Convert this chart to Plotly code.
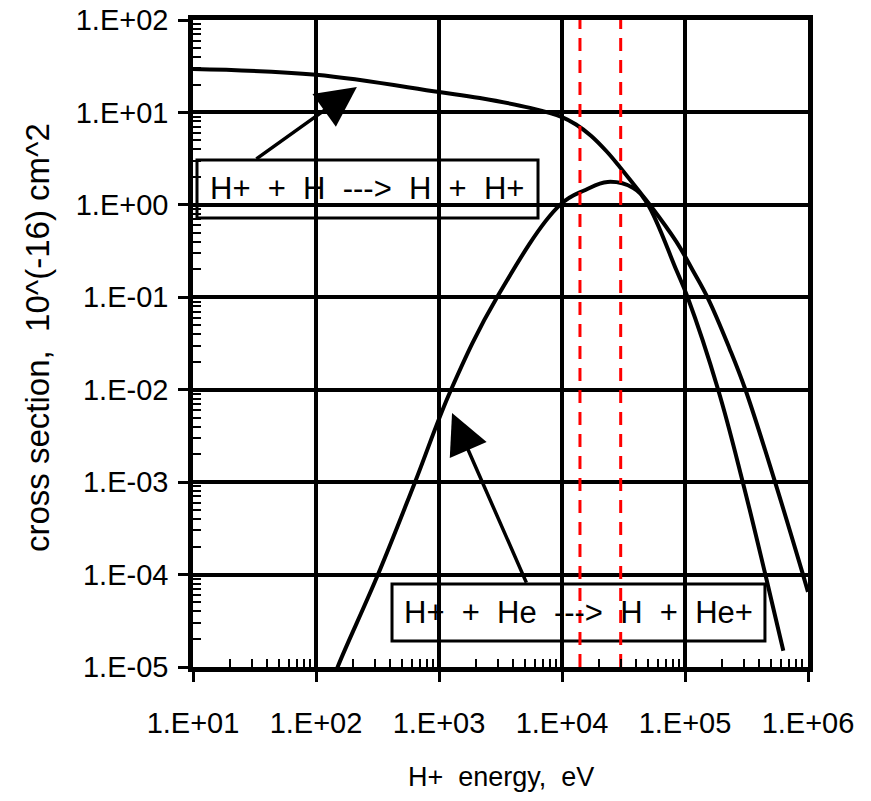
import numpy as np
import plotly.graph_objects as go

# Charge-exchange cross sections (units of 1e-16 cm^2) vs. proton energy (eV)
energy_h = [10, 100, 1000, 2150, 5500, 10000, 13000, 17200, 23000, 29500, 40700,
            51900, 85000, 117000, 155000, 230000, 310000, 540000, 910000, 1000000]
sigma_h = [29.5, 25.5, 16.6, 14.3, 11.2, 8.9, 7.4, 5.6, 3.8, 2.57, 1.5,
           1.0, 0.4, 0.19, 0.095, 0.028, 0.01, 1e-3, 1e-4, 6.5e-5]

energy_he = [138, 150, 319, 638, 1253, 2965, 9640, 15500, 23500, 38000,
             49000, 85000, 105000, 186000, 295000, 450000, 630000]
sigma_he = [7.2e-6, 1e-5, 1e-4, 1e-3, 1e-2, 1e-1, 1.0, 1.45, 1.77, 1.52,
            1.05, 0.197, 0.1, 0.01, 1e-3, 1e-4, 1.5e-5]

# Energies marked by the dashed red lines
marker_energies = [1.4e4, 3.0e4]

x_tickvals = [1e1, 1e2, 1e3, 1e4, 1e5, 1e6]
x_ticktext = ["1.E+01", "1.E+02", "1.E+03", "1.E+04", "1.E+05", "1.E+06"]
y_tickvals = [1e-5, 1e-4, 1e-3, 1e-2, 1e-1, 1e0, 1e1, 1e2]
y_ticktext = ["1.E-05", "1.E-04", "1.E-03", "1.E-02", "1.E-01", "1.E+00",
              "1.E+01", "1.E+02"]

label_h = "H+  +  H  --->  H  +  H+"
label_he = "H+  +  He  --->  H  +  He+"

FONT = "Liberation Sans, Arial, sans-serif"
NB = "\u00a0"

fig = go.Figure()

curve_line = dict(color="black", width=4, shape="spline", smoothing=1.1)
fig.add_trace(go.Scatter(x=energy_h, y=sigma_h, mode="lines", line=curve_line,
                         showlegend=False, hoverinfo="skip"))
fig.add_trace(go.Scatter(x=energy_he, y=sigma_he, mode="lines", line=curve_line,
                         showlegend=False, hoverinfo="skip"))

for e in marker_energies:
    fig.add_trace(go.Scatter(x=[e, e], y=[1e-5, 1e2], mode="lines",
                             line=dict(color="#ff0000", width=3, dash="13px,9px"),
                             showlegend=False, hoverinfo="skip"))

minor_x = [k * 10.0 ** n for n in range(1, 6) for k in range(2, 10)]
minor_y = [k * 10.0 ** n for n in range(-5, 2) for k in range(2, 10)]

axis_common = dict(
    type="log", showgrid=True, gridcolor="black", gridwidth=3.5,
    showline=True, linecolor="black", linewidth=4.5, mirror=True,
    ticks="outside", ticklen=10, tickwidth=3, tickcolor="black",
    tickfont=dict(family=FONT, size=29, color="black"), zeroline=False,
    automargin=False,
)

fig.update_xaxes(range=[1, 6], tickmode="array", tickvals=x_tickvals,
                 ticktext=x_ticktext, ticklabelstandoff=16,
                 minor=dict(tickmode="array", tickvals=minor_x, ticks="inside",
                            ticklen=8, tickwidth=2, tickcolor="black", showgrid=False),
                 **axis_common)
fig.update_yaxes(range=[-5, 2], tickmode="array", tickvals=y_tickvals,
                 ticktext=y_ticktext, ticklabelstandoff=4,
                 minor=dict(tickmode="array", tickvals=minor_y, ticks="inside",
                            ticklen=8, tickwidth=2, tickcolor="black", showgrid=False),
                 **axis_common)

# Label boxes: white fill hides the grid, traces stay on top
boxes = [(0.0065, 0.694, 0.561, 0.7836), (0.3236, 0.0402, 0.930, 0.1283)]
for x0, y0, x1, y1 in boxes:
    fig.add_shape(type="rect", xref="paper", yref="paper", x0=x0, y0=y0, x1=x1, y1=y1,
                  fillcolor="white", line=dict(color="black", width=3), layer="between")

annotations = [
    dict(text=label_h.replace(" ", NB), xref="paper", yref="paper", x=0.2837, y=0.739,
         xanchor="center", yanchor="middle", showarrow=False,
         font=dict(family=FONT, size=31, color="black")),
    dict(text=label_he.replace(" ", NB), xref="paper", yref="paper", x=0.627, y=0.0842,
         xanchor="center", yanchor="middle", showarrow=False,
         font=dict(family=FONT, size=31, color="black")),
    # arrows pointing at each curve
    dict(text="", x=np.log10(215), y=1.275, xref="x", yref="y", showarrow=True,
         ax=-102, ay=73, arrowhead=2, arrowsize=2.3, arrowwidth=3.5, arrowcolor="black"),
    dict(text="", x=3.106, y=-2.253, xref="x", yref="y", showarrow=True,
         ax=75, ay=171, arrowhead=2, arrowsize=2.3, arrowwidth=3.5, arrowcolor="black"),
    # axis titles
    dict(text="H+" + NB * 2 + "energy," + NB * 2 + "eV", xref="paper", yref="paper",
         x=0.5, y=-0.17, xanchor="center", yanchor="middle", showarrow=False,
         font=dict(family=FONT, size=27, color="black")),
    dict(text="cross section," + NB * 2 + "10^(-16) cm^2", xref="paper", yref="paper",
         x=-0.2537, y=0.51, xanchor="center", yanchor="middle", textangle=-90,
         showarrow=False, font=dict(family=FONT, size=33, color="black")),
]
fig.update_layout(annotations=annotations)

fig.update_layout(width=871, height=801, margin=dict(l=193, r=63, t=20, b=134),
                  paper_bgcolor="white", plot_bgcolor="white",
                  font=dict(family=FONT, color="black"), showlegend=False)

fig.write_html("out.html")
